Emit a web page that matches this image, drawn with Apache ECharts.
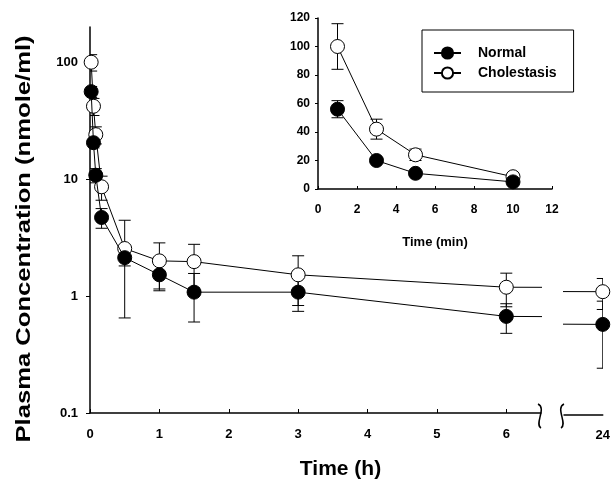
<!DOCTYPE html>
<html>
<head>
<meta charset="utf-8">
<script src="https://cdn.jsdelivr.net/npm/echarts@6/dist/echarts.min.js"></script>
<style>html,body{margin:0;padding:0;background:#fff}#c{width:613px;height:485px}</style>
</head>
<body>
<div id="c"></div>
<script>
// ---- data ----
const timeHours = [1/60, 3/60, 5/60, 10/60, 0.5, 1, 1.5, 3, 6, 24];
const normalMain = [56, 20.5, 10.8, 4.7, 2.13, 1.52, 1.08, 1.08, 0.67, 0.59];
const normalMainErr = [6, 2, 1.5, 0.9, 0.32, 0.41, 0.48, 0.34, 0.19, 0.34];
const cholMain = [100, 42, 24, 8.6, 2.55, 2.0, 1.97, 1.52, 1.19, 1.12];
const cholMainErr = [16, 7, 4, 2, 1.9, 0.85, 0.8, 0.69, 0.38, 0.33];

const timeMin = [1, 3, 5, 10];
const normalInset = [56, 20, 11, 5];
const normalInsetErr = [6, 2, 1.5, 1];
const cholInset = [100, 42, 24, 8.6];
const cholInsetErr = [16, 7, 4, 2];

const mainYTicks = [0.1, 1, 10, 100];
const mainXTicks = [0, 1, 2, 3, 4, 5, 6];
const breakXTicks = [24];

// ---- helpers ----
const pairs = (xs, ys) => xs.map((x, i) => [x, ys[i]]);
const bars = (xs, ys, es, floor) => xs.map((x, i) => [x, Math.max(floor, ys[i] - es[i]), ys[i] + es[i]]);
const FONT = 'Arial, "Liberation Sans", sans-serif';

function errRender(params, api) {
  const x = api.value(0), lo = api.value(1), hi = api.value(2);
  const a = api.coord([x, lo]), b = api.coord([x, hi]);
  const w = 6;
  const st = { stroke: '#000', lineWidth: 1 };
  return {
    type: 'group',
    children: [
      { type: 'line', shape: { x1: a[0], y1: a[1], x2: b[0], y2: b[1] }, style: st },
      { type: 'line', shape: { x1: a[0] - w, y1: a[1], x2: a[0] + w, y2: a[1] }, style: st },
      { type: 'line', shape: { x1: b[0] - w, y1: b[1], x2: b[0] + w, y2: b[1] }, style: st }
    ]
  };
}
function errSeries(idx, data) {
  return { type: 'custom', xAxisIndex: idx, yAxisIndex: idx, renderItem: errRender, data: data,
    encode: { x: 0, y: [1, 2] }, silent: true, z: 1, clip: true };
}
function lineSeries(idx, name, data, filled) {
  return { type: 'line', name: name, xAxisIndex: idx, yAxisIndex: idx, data: data,
    symbol: 'circle', symbolSize: 14, showAllSymbol: true, clip: true,
    lineStyle: { color: '#000', width: 1 },
    itemStyle: { color: filled ? '#000' : '#fff', borderColor: '#000', borderWidth: 1 },
    z: filled ? 3 : 2, animation: false };
}

const mainIdx = timeHours.map((t, i) => i).filter(i => timeHours[i] <= 6);
const lastIdx = [timeHours.length - 2, timeHours.length - 1];
const sub = (arr, ids) => ids.map(i => arr[i]);

const axisLine = { lineStyle: { color: '#000', width: 1.5 } };
const lbl = { color: '#000', fontWeight: 'bold', fontSize: 13, fontFamily: FONT };

const option = {
  animation: false,
  backgroundColor: '#fff',
  grid: [
    { left: 90, top: 27, width: 451, height: 388 },
    { left: 564, top: 27, width: 40, height: 388 },
    { left: 318, top: 18, width: 234, height: 171 }
  ],
  xAxis: [
    { type: 'value', gridIndex: 0, min: 0, max: 6.5, interval: 1,
      axisLine: axisLine, splitLine: { show: false },
      axisTick: { inside: true, length: 4, lineStyle: { color: '#000' }, customValues: mainXTicks },
      axisLabel: Object.assign({ margin: 15, customValues: mainXTicks }, lbl),
      name: 'Time (h)', nameLocation: 'middle', nameGap: 46,
      nameTextStyle: { color: '#000', fontWeight: 'bold', fontSize: 21, fontFamily: FONT, padding: [0, 0, 0, 50] } },
    { type: 'value', gridIndex: 1, min: 23.42, max: 24,
      axisLine: axisLine, splitLine: { show: false },
      axisTick: { show: false },
      axisLabel: Object.assign({ margin: 14, customValues: breakXTicks, showMaxLabel: true }, lbl) },
    { type: 'value', gridIndex: 2, min: 0, max: 12, interval: 2,
      axisLine: axisLine, splitLine: { show: false },
      axisTick: { inside: true, length: 3, lineStyle: { color: '#000' } },
      axisLabel: Object.assign({ margin: 15 }, lbl, { fontSize: 12 }),
      name: 'Time (min)', nameLocation: 'middle', nameGap: 47,
      nameTextStyle: { color: '#000', fontWeight: 'bold', fontSize: 13, fontFamily: FONT } }
  ],
  yAxis: [
    { type: 'log', gridIndex: 0, logBase: 10, min: 0.1, max: 200,
      axisLine: axisLine, splitLine: { show: false },
      axisTick: { show: true, length: 4, lineStyle: { color: '#000' }, customValues: mainYTicks },
      axisLabel: Object.assign({ margin: 12, customValues: mainYTicks }, lbl) },
    { type: 'log', gridIndex: 1, logBase: 10, min: 0.1, max: 200, show: false },
    { type: 'value', gridIndex: 2, min: 0, max: 120, interval: 20,
      axisLine: axisLine, splitLine: { show: false },
      axisTick: { show: true, length: 3, lineStyle: { color: '#000' } },
      axisLabel: Object.assign({ margin: 8 }, lbl, { fontSize: 12 }) }
  ],
  legend: {
    data: ['Normal', 'Cholestasis'], orient: 'vertical', left: 422, top: 30,
    backgroundColor: '#fff', borderColor: '#000', borderWidth: 1,
    padding: [16, 17, 12, 11], itemGap: 6, itemWidth: 27, itemHeight: 14,
    textStyle: { color: '#000', fontWeight: 'bold', fontSize: 14, fontFamily: FONT, padding: [0, 0, 0, 12] },
    selectedMode: false
  },
  graphic: [
    { type: 'text', x: 24, y: 239, rotation: Math.PI / 2, scaleX: 1.22,
      style: { text: 'Plasma Concentration (nmole/ml)', font: 'bold 21px ' + FONT, fill: '#000',
        textAlign: 'center', textVerticalAlign: 'middle' } },
    { type: 'bezierCurve', shape: { x1: 538, y1: 404, cpx1: 547, cpy1: 408, cpx2: 534, cpy2: 424, x2: 541, y2: 428 },
      style: { stroke: '#000', lineWidth: 1.5, fill: null } },
    { type: 'bezierCurve', shape: { x1: 564, y1: 404, cpx1: 555, cpy1: 408, cpx2: 568, cpy2: 424, x2: 561, y2: 428 },
      style: { stroke: '#000', lineWidth: 1.5, fill: null } },
    { type: 'rect', shape: { x: 543, y: 410, width: 16, height: 12 }, style: { fill: '#fff' }, z: 100 }
  ],
  series: [
    errSeries(0, bars(sub(timeHours, mainIdx), sub(cholMain, mainIdx), sub(cholMainErr, mainIdx), 0.01)),
    errSeries(0, bars(sub(timeHours, mainIdx), sub(normalMain, mainIdx), sub(normalMainErr, mainIdx), 0.01)),
    lineSeries(0, 'Cholestasis', pairs(timeHours, cholMain), false),
    lineSeries(0, 'Normal', pairs(timeHours, normalMain), true),
    errSeries(1, bars([timeHours[9]], [cholMain[9]], [cholMainErr[9]], 0.01)),
    errSeries(1, bars([timeHours[9]], [normalMain[9]], [normalMainErr[9]], 0.01)),
    lineSeries(1, 'Cholestasis', pairs(sub(timeHours, lastIdx), sub(cholMain, lastIdx)), false),
    lineSeries(1, 'Normal', pairs(sub(timeHours, lastIdx), sub(normalMain, lastIdx)), true),
    errSeries(2, bars(timeMin, cholInset, cholInsetErr, 0)),
    errSeries(2, bars(timeMin, normalInset, normalInsetErr, 0)),
    lineSeries(2, 'Cholestasis', pairs(timeMin, cholInset), false),
    lineSeries(2, 'Normal', pairs(timeMin, normalInset), true)
  ]
};
const chart = echarts.init(document.getElementById('c'), null, { renderer: 'canvas' });
chart.setOption(option);
</script>
</body>
</html>
